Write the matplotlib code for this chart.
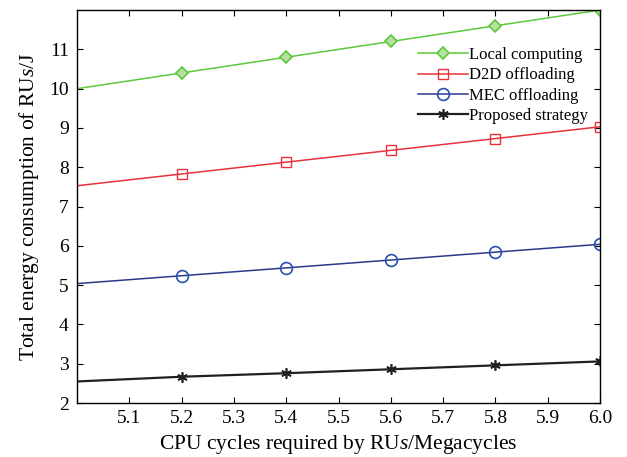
import matplotlib
matplotlib.use('Agg')
import matplotlib.pyplot as plt
import numpy as np

plt.rcParams.update({
    'font.family': 'Liberation Serif',
    'mathtext.fontset': 'custom',
    'mathtext.rm': 'Liberation Serif',
    'mathtext.it': 'Liberation Serif:italic',
    'font.size': 14,
})

cpu_cycles = [5.0, 5.2, 5.4, 5.6, 5.8, 6.0]
local_computing = [10.0, 10.4, 10.8, 11.2, 11.6, 12.0]
d2d_offloading = [7.53, 7.83, 8.13, 8.43, 8.73, 9.03]
mec_offloading = [5.04, 5.24, 5.44, 5.64, 5.84, 6.04]
proposed_strategy = [2.55, 2.67, 2.76, 2.86, 2.96, 3.06]

xtick_vals = [5.1, 5.2, 5.3, 5.4, 5.5, 5.6, 5.7, 5.8, 5.9, 6.0]
ytick_vals = [2, 3, 4, 5, 6, 7, 8, 9, 10, 11]

fig = plt.figure(figsize=(6.27, 4.57), dpi=100)
ax = fig.add_axes([0.123, 0.118, 0.834, 0.860])

mk = slice(1, None)
ax.plot(cpu_cycles, local_computing, color='#5cc83c', lw=1.1, marker='D',
        markersize=6.5, markerfacecolor='#b8e0a0', markeredgecolor='#5cc83c',
        markeredgewidth=1.2, markevery=mk, label='Local computing')
ax.plot(cpu_cycles, d2d_offloading, color='#e8323c', lw=1.1, marker='s',
        markersize=6.5, markerfacecolor='none', markeredgecolor='#e8323c',
        markevery=mk, label='D2D offloading')
ax.plot(cpu_cycles, mec_offloading, color='#2a3a8a', lw=1.1, marker='o',
        markersize=8.5, markerfacecolor='none', markeredgecolor='#2a50b0',
        markeredgewidth=1.2, markevery=mk, label='MEC offloading')
ax.plot(cpu_cycles, proposed_strategy, color='#202020', lw=1.6, marker=(6, 2, 0),
        markersize=7.5, markeredgewidth=1.2, markeredgecolor='#202020',
        markevery=mk, label='Proposed strategy')

ax.set_xlim(5.0, 6.0)
ax.set_ylim(2, 12)
ax.set_xticks(xtick_vals)
ax.set_xticklabels(['%.1f' % v for v in xtick_vals])
ax.set_yticks(ytick_vals)
ax.tick_params(direction='in', top=True, right=True, length=4, labelsize=14)
ax.tick_params(axis='x', pad=5)
ax.tick_params(axis='y', pad=6)
for s in ax.spines.values():
    s.set_linewidth(1.0)

ax.set_xlabel(r'CPU cycles required by RU$\it{s}$/Megacycles', fontsize=15.5, labelpad=4)
ax.set_ylabel(r'Total energy consumption of RU$\it{s}$/J', fontsize=15.5, labelpad=6)

ax.legend(loc='upper right', frameon=False, fontsize=12, handlelength=3.0,
          handletextpad=0.1, labelspacing=0.25, borderaxespad=0.3,
          bbox_to_anchor=(1.0, 0.935))

fig.savefig('out.png', dpi=100)
